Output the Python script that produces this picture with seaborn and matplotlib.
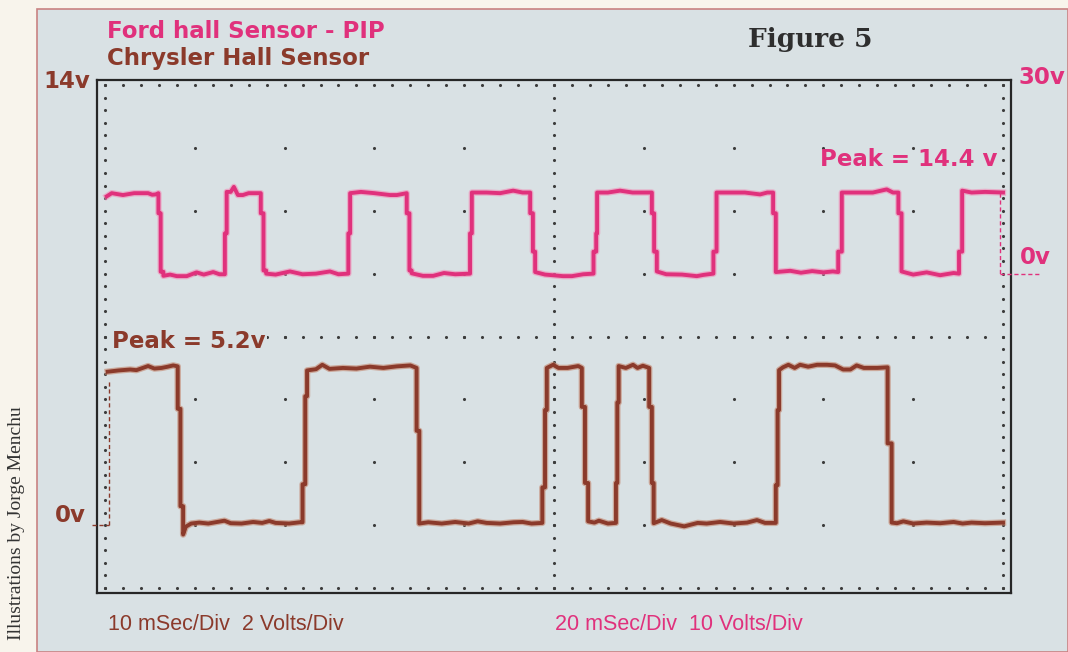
import numpy as np
import matplotlib
matplotlib.use("Agg")
import matplotlib.pyplot as plt
import seaborn as sns
from matplotlib.patches import Rectangle

# Chrysler hall sensor trace: time (ms, 10 ms/div) and volts (2 V/div)
brown_t = [0.3, 1.5, 2.8, 3.5, 4.2, 4.8, 5.5, 6.3, 7.0, 7.6, 8.1,
           8.1, 8.4, 8.4, 8.7, 8.7, 9.0, 9.6, 10.5, 11.5, 12.5, 13.3, 14.0, 15.2, 16.5, 17.5, 18.3, 19.0, 20.5, 21.7, 22.0,
           22.0, 22.3, 22.3, 22.5, 22.5, 23.5, 24.2, 25.0, 26.5, 28.0, 29.5, 31.0, 32.5, 34.0, 34.7,
           34.7, 35.0, 35.0, 36.0, 37.5, 39.0, 40.5, 41.5, 42.5, 44.0, 45.5, 46.5, 47.5, 48.7,
           48.7, 49.0, 49.0, 49.2, 49.2, 49.9, 50.5, 51.5, 52.7, 53.1,
           53.1, 53.45, 53.45, 53.8, 53.8, 54.5, 55.0, 56.0, 56.9,
           56.9, 57.05, 57.05, 57.2, 57.2, 58.0, 58.8, 59.3, 59.9, 60.6,
           60.6, 60.9, 60.9, 61.1, 61.1, 62.0, 63.0, 64.5, 66.0, 67.0, 68.5, 70.0, 71.5, 72.6, 73.5, 74.7,
           74.7, 74.9, 74.9, 75.06, 75.06, 75.5, 76.1, 76.8, 77.4, 78.3, 79.3, 80.4, 81.3, 82.2, 83.0, 83.7, 84.5, 86.0, 87.15,
           87.15, 87.6, 87.6, 88.2, 88.9, 90.0, 91.5, 93.0, 94.5, 95.5, 96.5, 98.0, 99.0, 100.0]
brown_v = [4.88, 4.92, 4.95, 4.93, 5.0, 5.06, 4.98, 5.0, 5.04, 5.08, 5.05,
           3.7, 3.7, 0.6, 0.6, -0.3, -0.05, 0.05, 0.08, 0.05, 0.1, 0.14, 0.06, 0.05, 0.1, 0.07, 0.13, 0.07, 0.05, 0.09, 0.09,
           1.3, 1.3, 4.1, 4.1, 4.92, 4.96, 5.1, 4.97, 5.0, 4.98, 5.04, 5.0, 5.05, 5.08, 5.0,
           3.0, 3.0, 0.05, 0.09, 0.05, 0.1, 0.05, 0.12, 0.07, 0.05, 0.09, 0.1, 0.05, 0.07,
           1.2, 1.2, 3.66, 3.66, 5.0, 5.1, 5.0, 5.0, 5.06, 5.0,
           3.76, 3.76, 1.34, 1.34, 0.12, 0.08, 0.14, 0.05, 0.07,
           1.34, 1.34, 3.9, 3.9, 5.06, 5.0, 5.1, 5.0, 5.07, 5.0,
           3.76, 3.76, 1.34, 1.34, 0.06, 0.16, 0.05, -0.04, 0.07, 0.05, 0.1, 0.05, 0.08, 0.16, 0.07, 0.07,
           1.27, 1.27, 3.66, 3.66, 4.93, 5.02, 5.1, 5.0, 5.1, 5.04, 5.1, 5.1, 5.08, 4.95, 4.95, 5.08, 5.0, 5.0, 5.02,
           2.6, 2.6, 0.08, 0.06, 0.12, 0.05, 0.08, 0.06, 0.1, 0.05, 0.08, 0.06, 0.07, 0.08]

# Ford PIP trace: time (ms, 20 ms/div) and volts (10 V/div)
pink_t = [0.4, 1.5, 4.0, 6.5, 9.6, 10.5, 11.3, 11.9,
          11.9, 12.4, 12.4, 13.0, 13.0, 14.5, 16.0, 18.2, 20.4, 22.0, 24.1, 25.5, 26.7,
          26.7, 27.1, 27.1, 28.0, 28.7, 29.6, 30.7, 32.0, 34.5, 34.7,
          34.7, 35.3, 35.3, 35.9, 35.9, 38.0, 41.2, 44.0, 47.0, 50.1, 52.0, 54.2,
          54.2, 54.6, 54.6, 57.0, 60.0, 63.5, 65.0, 67.2,
          67.2, 67.8, 67.8, 68.3, 68.3, 70.8, 73.1, 75.5, 78.0, 81.3,
          81.3, 81.7, 81.7, 85.0, 88.0, 90.9, 93.0, 94.7,
          94.7, 95.3, 95.3, 95.8, 95.8, 98.0, 102.0, 104.0, 106.5, 108.8,
          108.8, 109.4, 109.4, 109.6, 109.6, 112.0, 114.7, 117.5, 121.8,
          121.8, 122.3, 122.3, 122.9, 122.9, 125.0, 128.5, 131.8, 133.3, 135.5,
          135.5, 136.2, 136.2, 139.0, 142.5, 145.9, 147.5, 148.8,
          148.8, 149.4, 149.4, 152.6, 155.0, 157.5, 160.0, 162.1, 163.3,
          163.3, 164.1, 164.1, 167.0, 171.0, 174.1, 175.5, 176.7,
          176.7, 177.4, 177.4, 180.0, 183.0, 186.0, 189.0, 190.2,
          190.2, 190.9, 190.9, 193.0, 196.0, 200.0]
pink_v = [12.3, 12.8, 12.5, 12.8, 12.8, 12.55, 12.6, 12.8,
          9.6, 9.6, 0.3, 0.3, -0.35, -0.15, -0.4, -0.4, 0.2, -0.15, 0.25, -0.1, -0.1,
          6.4, 6.4, 13.0, 13.0, 13.8, 12.5, 12.5, 12.8, 12.8, 12.8,
          9.6, 9.6, 0.5, 0.5, 0.0, -0.15, 0.35, -0.1, 0.0, 0.35, -0.1, 0.0,
          6.4, 6.4, 12.8, 13.0, 12.8, 12.5, 12.5, 12.8,
          9.6, 9.6, 0.5, 0.5, 0.05, -0.35, -0.35, 0.1, -0.1, 0.0,
          6.4, 6.4, 12.9, 12.9, 12.8, 13.2, 12.9, 12.9,
          9.6, 9.6, 3.5, 3.5, 0.25, -0.15, -0.4, -0.4, -0.1, 0.0,
          3.5, 3.5, 6.4, 6.4, 12.9, 12.9, 13.2, 12.9, 12.9,
          9.6, 9.6, 3.5, 3.5, 0.35, -0.1, -0.15, -0.4, -0.2, 0.0,
          3.5, 3.5, 12.9, 12.9, 12.9, 12.6, 12.9, 12.9,
          9.6, 9.6, 0.25, 0.45, 0.15, 0.4, 0.2, 0.35, 0.25,
          3.5, 3.5, 12.9, 12.9, 12.9, 13.4, 12.9, 12.9,
          9.6, 9.6, 0.35, -0.15, 0.2, -0.25, 0.1, 0.0,
          3.5, 3.5, 13.2, 12.9, 13.0, 12.9]

brown_peak = 5.0     # level of the dashed marker on the left
pink_peak = 12.9     # level of the dashed marker on the right

PINK = "#e0317c"
BROWN = "#8b3a2b"
PANEL = "#d9e1e4"

W, H = 1068, 652
fig = plt.figure(figsize=(W / 100, H / 100), dpi=100, facecolor="#f8f4ec")

def fx(px):
    return px / W

def fy(py):
    return 1 - py / H

# panel background with thin reddish rule
fig.patches.append(Rectangle((fx(37), 0), 1 - fx(37), fy(9), transform=fig.transFigure,
                             facecolor=PANEL, edgecolor="#c98282", linewidth=1.2, zorder=-10))

pos = [fx(97), fy(593), fx(1011) - fx(97), fy(80) - fy(593)]

# graticule in division units (10 x 8 divisions)
ax = fig.add_axes(pos)
ax.set_facecolor(PANEL)
ax.set_xlim(-0.089, 10.089)
ax.set_ylim(-0.08, 8.08)
ax.set_xticks([])
ax.set_yticks([])
for s in ax.spines.values():
    s.set_color("#262626")
    s.set_linewidth(1.6)

minor_x = np.arange(0, 10.001, 0.2)
minor_y = np.arange(0, 8.001, 0.2)
gx, gy = [], []
for x in minor_x:
    gx += [x, x, x]
    gy += [0, 8, 4]
for y in minor_y:
    gx += [0, 10, 5]
    gy += [y, y, y]
for x in range(1, 10):
    for y in range(1, 8):
        gx.append(x)
        gy.append(y)
sns.scatterplot(x=gx, y=gy, s=5, color="#3c3c3c", linewidth=0, ax=ax, legend=False)

# Chrysler trace (10 mSec/Div, 2 Volts/Div, 0 V one division above bottom)
ax_b = fig.add_axes(pos)
ax_b.set_xlim(-0.89, 100.89)
ax_b.set_ylim(-2.16, 14.16)
ax_b.axis("off")
sns.lineplot(x=brown_t, y=brown_v, estimator=None, sort=False, color="#c2826a",
             linewidth=4.6, alpha=0.6, ax=ax_b, legend=False)
sns.lineplot(x=brown_t, y=brown_v, estimator=None, sort=False, color=BROWN,
             linewidth=2.8, ax=ax_b, legend=False)
t0 = brown_t[0] + 0.1
ax_b.plot([-1.4, t0], [0, 0], ls=(0, (3, 2)), lw=1, color=BROWN, clip_on=False)
ax_b.plot([t0, t0], [0, brown_peak * 0.92], ls=(0, (3, 2)), lw=1, color=BROWN)

# Ford trace (20 mSec/Div, 10 Volts/Div, 0 V five divisions above bottom)
ax_p = fig.add_axes(pos)
ax_p.set_xlim(-1.78, 201.78)
ax_p.set_ylim(-50.8, 30.8)
ax_p.axis("off")
sns.lineplot(x=pink_t, y=pink_v, estimator=None, sort=False, color="#f28cb6",
             linewidth=4.6, alpha=0.6, ax=ax_p, legend=False)
sns.lineplot(x=pink_t, y=pink_v, estimator=None, sort=False, color=PINK,
             linewidth=2.8, ax=ax_p, legend=False)
t1 = pink_t[-1] - 0.7
ax_p.plot([t1, t1], [pink_peak, 0], ls=(0, (3, 2)), lw=1, color=PINK)
ax_p.plot([t1, 208.5], [0, 0], ls=(0, (3, 2)), lw=1, color=PINK, clip_on=False)

bold = dict(fontsize=16.5, fontweight="bold", va="center", family="DejaVu Sans")
fig.text(fx(107), fy(32), "Ford hall Sensor - PIP", color=PINK, **bold)
fig.text(fx(107), fy(59), "Chrysler Hall Sensor", color=BROWN, **bold)
fig.text(fx(43), fy(81), "14v", color=BROWN, **bold)
fig.text(fx(1018), fy(78), "30v", color=PINK, **bold)
fig.text(fx(820), fy(160), "Peak = 14.4 v", color=PINK, **bold)
fig.text(fx(1020), fy(258), "0v", color=PINK, **bold)
fig.text(fx(112), fy(341), "Peak = 5.2v", color=BROWN,
         bbox=dict(facecolor=PANEL, edgecolor="none", pad=1), **bold)
fig.text(fx(55), fy(515), "0v", color=BROWN, **bold)
fig.text(fx(748), fy(40), "Figure 5", fontsize=19, fontweight="bold", family="DejaVu Serif",
         color="#2e2e2e", va="center")
small = dict(fontsize=15.5, va="center", family="Liberation Sans", fontstretch="condensed")
fig.text(fx(108), fy(625), "10 mSec/Div  2 Volts/Div", color=BROWN, **small)
fig.text(fx(555), fy(625), "20 mSec/Div  10 Volts/Div", color=PINK, **small)
fig.text(fx(17), fy(523), "Illustrations by Jorge Menchu", rotation=90, fontsize=14,
         family="Liberation Serif", color="#333333", ha="center", va="center")

fig.savefig("out.png", dpi=100, facecolor=fig.get_facecolor())
